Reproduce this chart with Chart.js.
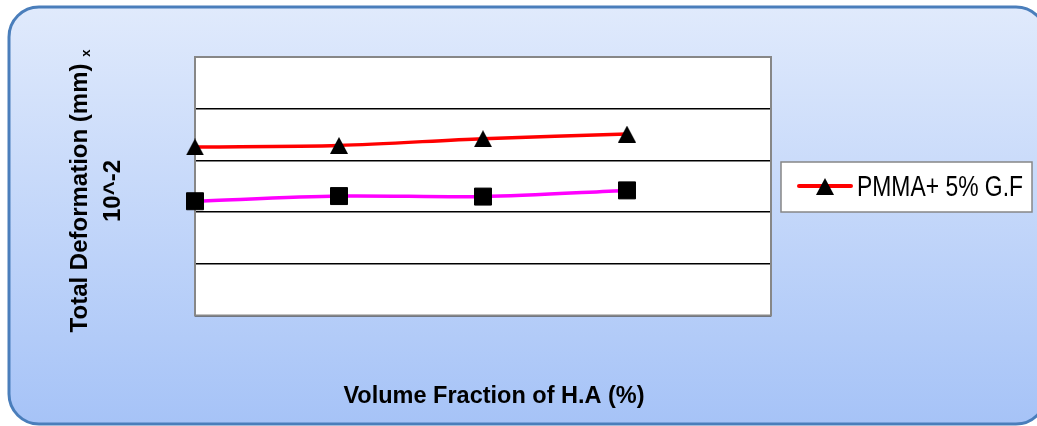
<!DOCTYPE html>
<html>
<head>
<meta charset="utf-8">
<script src="https://cdn.jsdelivr.net/npm/chart.js@4"></script>
<style>
  html, body { margin: 0; padding: 0; background: #fff; }
  #wrap { width: 1037px; height: 426px; }
</style>
</head>
<body>
<div id="wrap"><canvas id="grafico" width="1037" height="426"></canvas></div>
<script>
// dados
const categorias = ['0', '5', '10', '15', '20'];
const serieGF = [3.26, 3.29, 3.42, 3.51, null];
const seriePMMA = [2.21, 2.31, 2.30, 2.42, null];
const nomeGF = 'PMMA+ 5% G.F';
const nomePMMA = 'PMMA';
const yMin = 0, yMax = 5, yStep = 1;
const tituloX = 'Volume Fraction of H.A (%)';
const tituloY1 = 'Total Deformation (mm)';
const tituloY1b = 'x';
const tituloY2 = '10^-2';

// marcador triângulo centrado pela caixa (como no Excel)
function makeTriangle(w, h) {
  const c = document.createElement('canvas');
  c.width = w; c.height = h;
  const g = c.getContext('2d');
  g.fillStyle = '#000';
  g.beginPath();
  g.moveTo(w / 2, 0);
  g.lineTo(w, h);
  g.lineTo(0, h);
  g.closePath();
  g.fill();
  return c;
}
const triangulo = makeTriangle(18, 17);

// fundo azul arredondado + área branca
const framePlugin = {
  id: 'frame',
  beforeDraw(chart) {
    const ctx = chart.ctx;
    const a = chart.chartArea;
    ctx.save();
    ctx.fillStyle = '#fff';
    ctx.fillRect(0, 0, chart.width, chart.height);
    const x = 9, y = 7, w = 1037, h = 424 - 7, r = 30;
    const g = ctx.createLinearGradient(0, y, 0, y + h);
    g.addColorStop(0, '#e0eafc');
    g.addColorStop(1, '#a6c3f7');
    ctx.beginPath();
    ctx.moveTo(x + r, y);
    ctx.lineTo(x + w - r, y);
    ctx.arcTo(x + w, y, x + w, y + r, r);
    ctx.lineTo(x + w, y + h - r);
    ctx.arcTo(x + w, y + h, x + w - r, y + h, r);
    ctx.lineTo(x + r, y + h);
    ctx.arcTo(x, y + h, x, y + h - r, r);
    ctx.lineTo(x, y + r);
    ctx.arcTo(x, y, x + r, y, r);
    ctx.closePath();
    ctx.fillStyle = g;
    ctx.fill();
    ctx.lineWidth = 3;
    ctx.strokeStyle = '#4a7ebb';
    ctx.stroke();
    ctx.fillStyle = '#fff';
    ctx.fillRect(a.left, a.top, a.right - a.left, a.bottom - a.top);
    ctx.restore();
  },
  beforeDatasetsDraw(chart) {
    const ctx = chart.ctx;
    const a = chart.chartArea;
    ctx.save();
    ctx.lineWidth = 2;
    ctx.strokeStyle = '#878787';
    ctx.strokeRect(a.left, a.top, a.right - a.left, a.bottom - a.top);
    ctx.restore();
  },
  afterDraw(chart) {
    const ctx = chart.ctx;
    ctx.save();
    ctx.fillStyle = '#000';
    // título X
    ctx.font = 'bold 23.5px "Liberation Sans", Arial, sans-serif';
    ctx.textAlign = 'center';
    ctx.textBaseline = 'alphabetic';
    ctx.fillText(tituloX, 494, 403);

    // título Y (duas linhas, girado)
    ctx.save();
    ctx.translate(0, 191);
    ctx.rotate(-Math.PI / 2);
    ctx.textAlign = 'left';
    ctx.font = 'bold 24px "Liberation Sans", Arial, sans-serif';
    const w1 = ctx.measureText(tituloY1 + ' ').width;
    ctx.font = 'bold 13px "Liberation Sans", Arial, sans-serif';
    const wx = ctx.measureText(tituloY1b).width;
    const inicio = -(w1 + wx) / 2;
    ctx.font = 'bold 24px "Liberation Sans", Arial, sans-serif';
    ctx.fillText(tituloY1, inicio, 87);
    ctx.font = 'bold 13px "Liberation Sans", Arial, sans-serif';
    ctx.fillText(tituloY1b, inicio + w1, 90);
    ctx.font = 'bold 24px "Liberation Sans", Arial, sans-serif';
    ctx.textAlign = 'center';
    ctx.fillText(tituloY2, 0, 120);
    ctx.restore();

    // legenda (só a primeira série aparece no original)
    const lx = 781, ly = 162, lw = 251, lh = 50;
    ctx.fillStyle = '#fff';
    ctx.fillRect(lx, ly, lw, lh);
    ctx.lineWidth = 1.5;
    ctx.strokeStyle = '#878787';
    ctx.strokeRect(lx, ly, lw, lh);
    const ds = chart.data.datasets[0];
    ctx.strokeStyle = ds.borderColor;
    ctx.lineWidth = 4;
    ctx.lineCap = 'round';
    ctx.beginPath();
    ctx.moveTo(799, 186);
    ctx.lineTo(851, 186);
    ctx.stroke();
    ctx.drawImage(triangulo, 816, 178);
    ctx.fillStyle = '#000';
    ctx.font = '29px "Liberation Sans", Arial, sans-serif';
    ctx.textAlign = 'left';
    const tw = ctx.measureText(ds.label).width;
    ctx.translate(857, 196);
    ctx.scale(166 / tw, 1);
    ctx.fillText(ds.label, 0, 0);
    ctx.restore();
  }
};

const ctx = document.getElementById('grafico').getContext('2d');
const grafico = new Chart(ctx, {
  type: 'line',
  data: {
    labels: categorias,
    datasets: [
      {
        label: nomeGF,
        data: serieGF,
        borderColor: '#ff0000',
        borderWidth: 3.5,
        tension: 0.3,
        pointStyle: triangulo,
        pointRadius: 10,
        clip: false
      },
      {
        label: nomePMMA,
        data: seriePMMA,
        borderColor: '#ff00ff',
        borderWidth: 3.5,
        tension: 0.3,
        pointStyle: 'rect',
        pointRadius: 12,
        pointBackgroundColor: '#000',
        pointBorderColor: '#000',
        pointBorderWidth: 1,
        clip: false
      }
    ]
  },
  options: {
    responsive: false,
    devicePixelRatio: 1,
    animation: false,
    layout: { padding: { left: 195, top: 57, right: 266, bottom: 110.5 } },
    plugins: {
      legend: { display: false },
      tooltip: { enabled: false }
    },
    scales: {
      x: {
        display: false,
        offset: false
      },
      y: {
        min: yMin,
        max: yMax,
        ticks: { display: false, stepSize: yStep },
        grid: { color: '#000', lineWidth: 1.5, drawTicks: false },
        border: { display: false },
        afterFit: s => { s.width = 0; }
      }
    }
  },
  plugins: [framePlugin]
});
</script>
</body>
</html>
